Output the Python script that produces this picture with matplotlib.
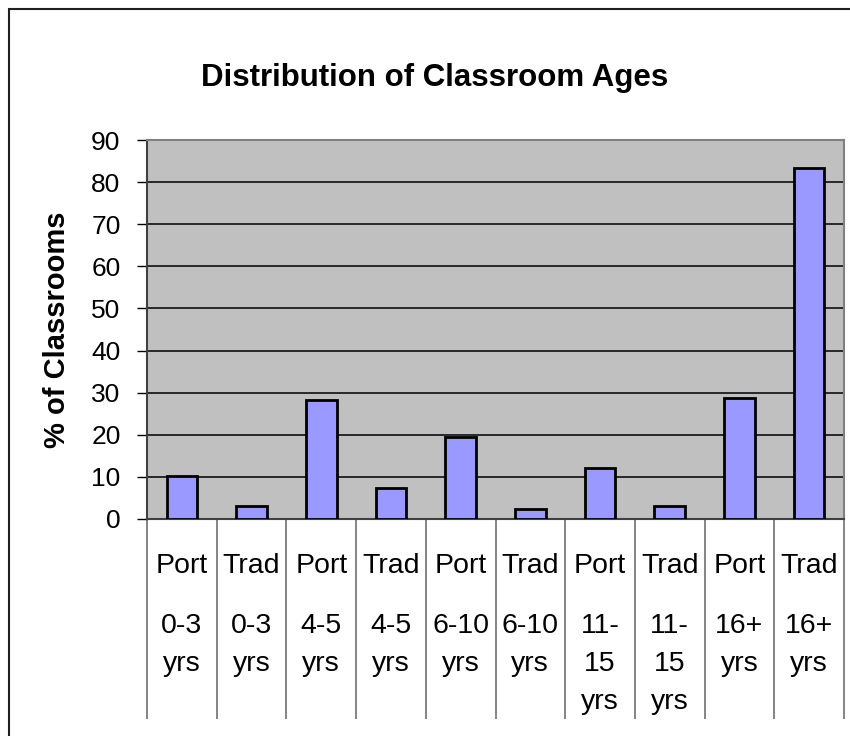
import matplotlib
matplotlib.use('Agg')
import matplotlib.pyplot as plt
import matplotlib.transforms as mtransforms
from matplotlib.patches import Rectangle

plt.rcParams['font.family'] = ['Liberation Sans', 'DejaVu Sans']

# data
building_type = ['Port', 'Trad', 'Port', 'Trad', 'Port', 'Trad', 'Port', 'Trad', 'Port', 'Trad']
age_group = ['0-3\nyrs', '0-3\nyrs', '4-5\nyrs', '4-5\nyrs', '6-10\nyrs', '6-10\nyrs',
             '11-\n15\nyrs', '11-\n15\nyrs', '16+\nyrs', '16+\nyrs']
pct_classrooms = [10.3, 3.2, 28.3, 7.4, 19.4, 2.3, 12.2, 3.2, 28.8, 83.3]
yticks = [0, 10, 20, 30, 40, 50, 60, 70, 80, 90]

W, H = 850, 736
fig = plt.figure(figsize=(W / 100, H / 100), dpi=100)

# plot area in pixels: left 147, right 844, top 140, bottom 519
px_left, px_right, px_top, px_bot = 147, 844, 140, 519
ax = fig.add_axes([px_left / W, 1 - px_bot / H, (px_right - px_left) / W, (px_bot - px_top) / H])
ax.set_facecolor('#C0C0C0')

x = list(range(len(pct_classrooms)))
ax.bar(x, pct_classrooms, width=0.44, color='#9999FF', edgecolor='black', linewidth=2, zorder=3)

ax.set_xlim(-0.5, len(x) - 0.5)
ax.set_ylim(0, 90)
ax.set_yticks(yticks)
ax.set_yticklabels([str(t) for t in yticks], fontsize=19)
ax.yaxis.grid(True, color='black', linewidth=1.1, zorder=1)
ax.tick_params(axis='y', direction='out', length=7, width=1, color='black', pad=12)

# category separators (drawn as long minor ticks)
ax.set_xticks([])
ax.set_xticks([i - 0.5 for i in range(len(x) + 1)], minor=True)
ax.tick_params(axis='x', which='minor', direction='out', length=144, width=1.2, color='#707070')

for side in ['top', 'right']:
    ax.spines[side].set_color('#808080')
    ax.spines[side].set_linewidth(1.5)
ax.spines['left'].set_color('#404040')
ax.spines['left'].set_linewidth(1.5)
ax.spines['bottom'].set_color('#404040')
ax.spines['bottom'].set_linewidth(1.5)


def ypos(py):
    return (px_bot - py) / (px_bot - px_top)


trans = mtransforms.blended_transform_factory(ax.transData, ax.transAxes)
for i in x:
    ax.text(i, ypos(566), building_type[i], transform=trans, ha='center', va='center',
            fontsize=20.5, clip_on=False)
    for j, line in enumerate(age_group[i].split('\n')):
        ax.text(i, ypos(626 + 38 * j), line, transform=trans, ha='center', va='center',
                fontsize=20.5, clip_on=False)

fig.text(435 / W, 1 - 78 / H, 'Distribution of Classroom Ages', ha='center', va='center',
         fontsize=22.5, fontweight='bold')
fig.text(57 / W, 1 - 330 / H, '% of Classrooms', ha='center', va='center',
         rotation=90, fontsize=21, fontweight='bold')

# chart border (cut off at right and bottom)
fig.patches.append(Rectangle((9 / W, -0.1), 1.2, 1.1 - 9 / H, transform=fig.transFigure,
                             fill=False, edgecolor='#202020', linewidth=1.5))

fig.savefig('out.png', dpi=100)
